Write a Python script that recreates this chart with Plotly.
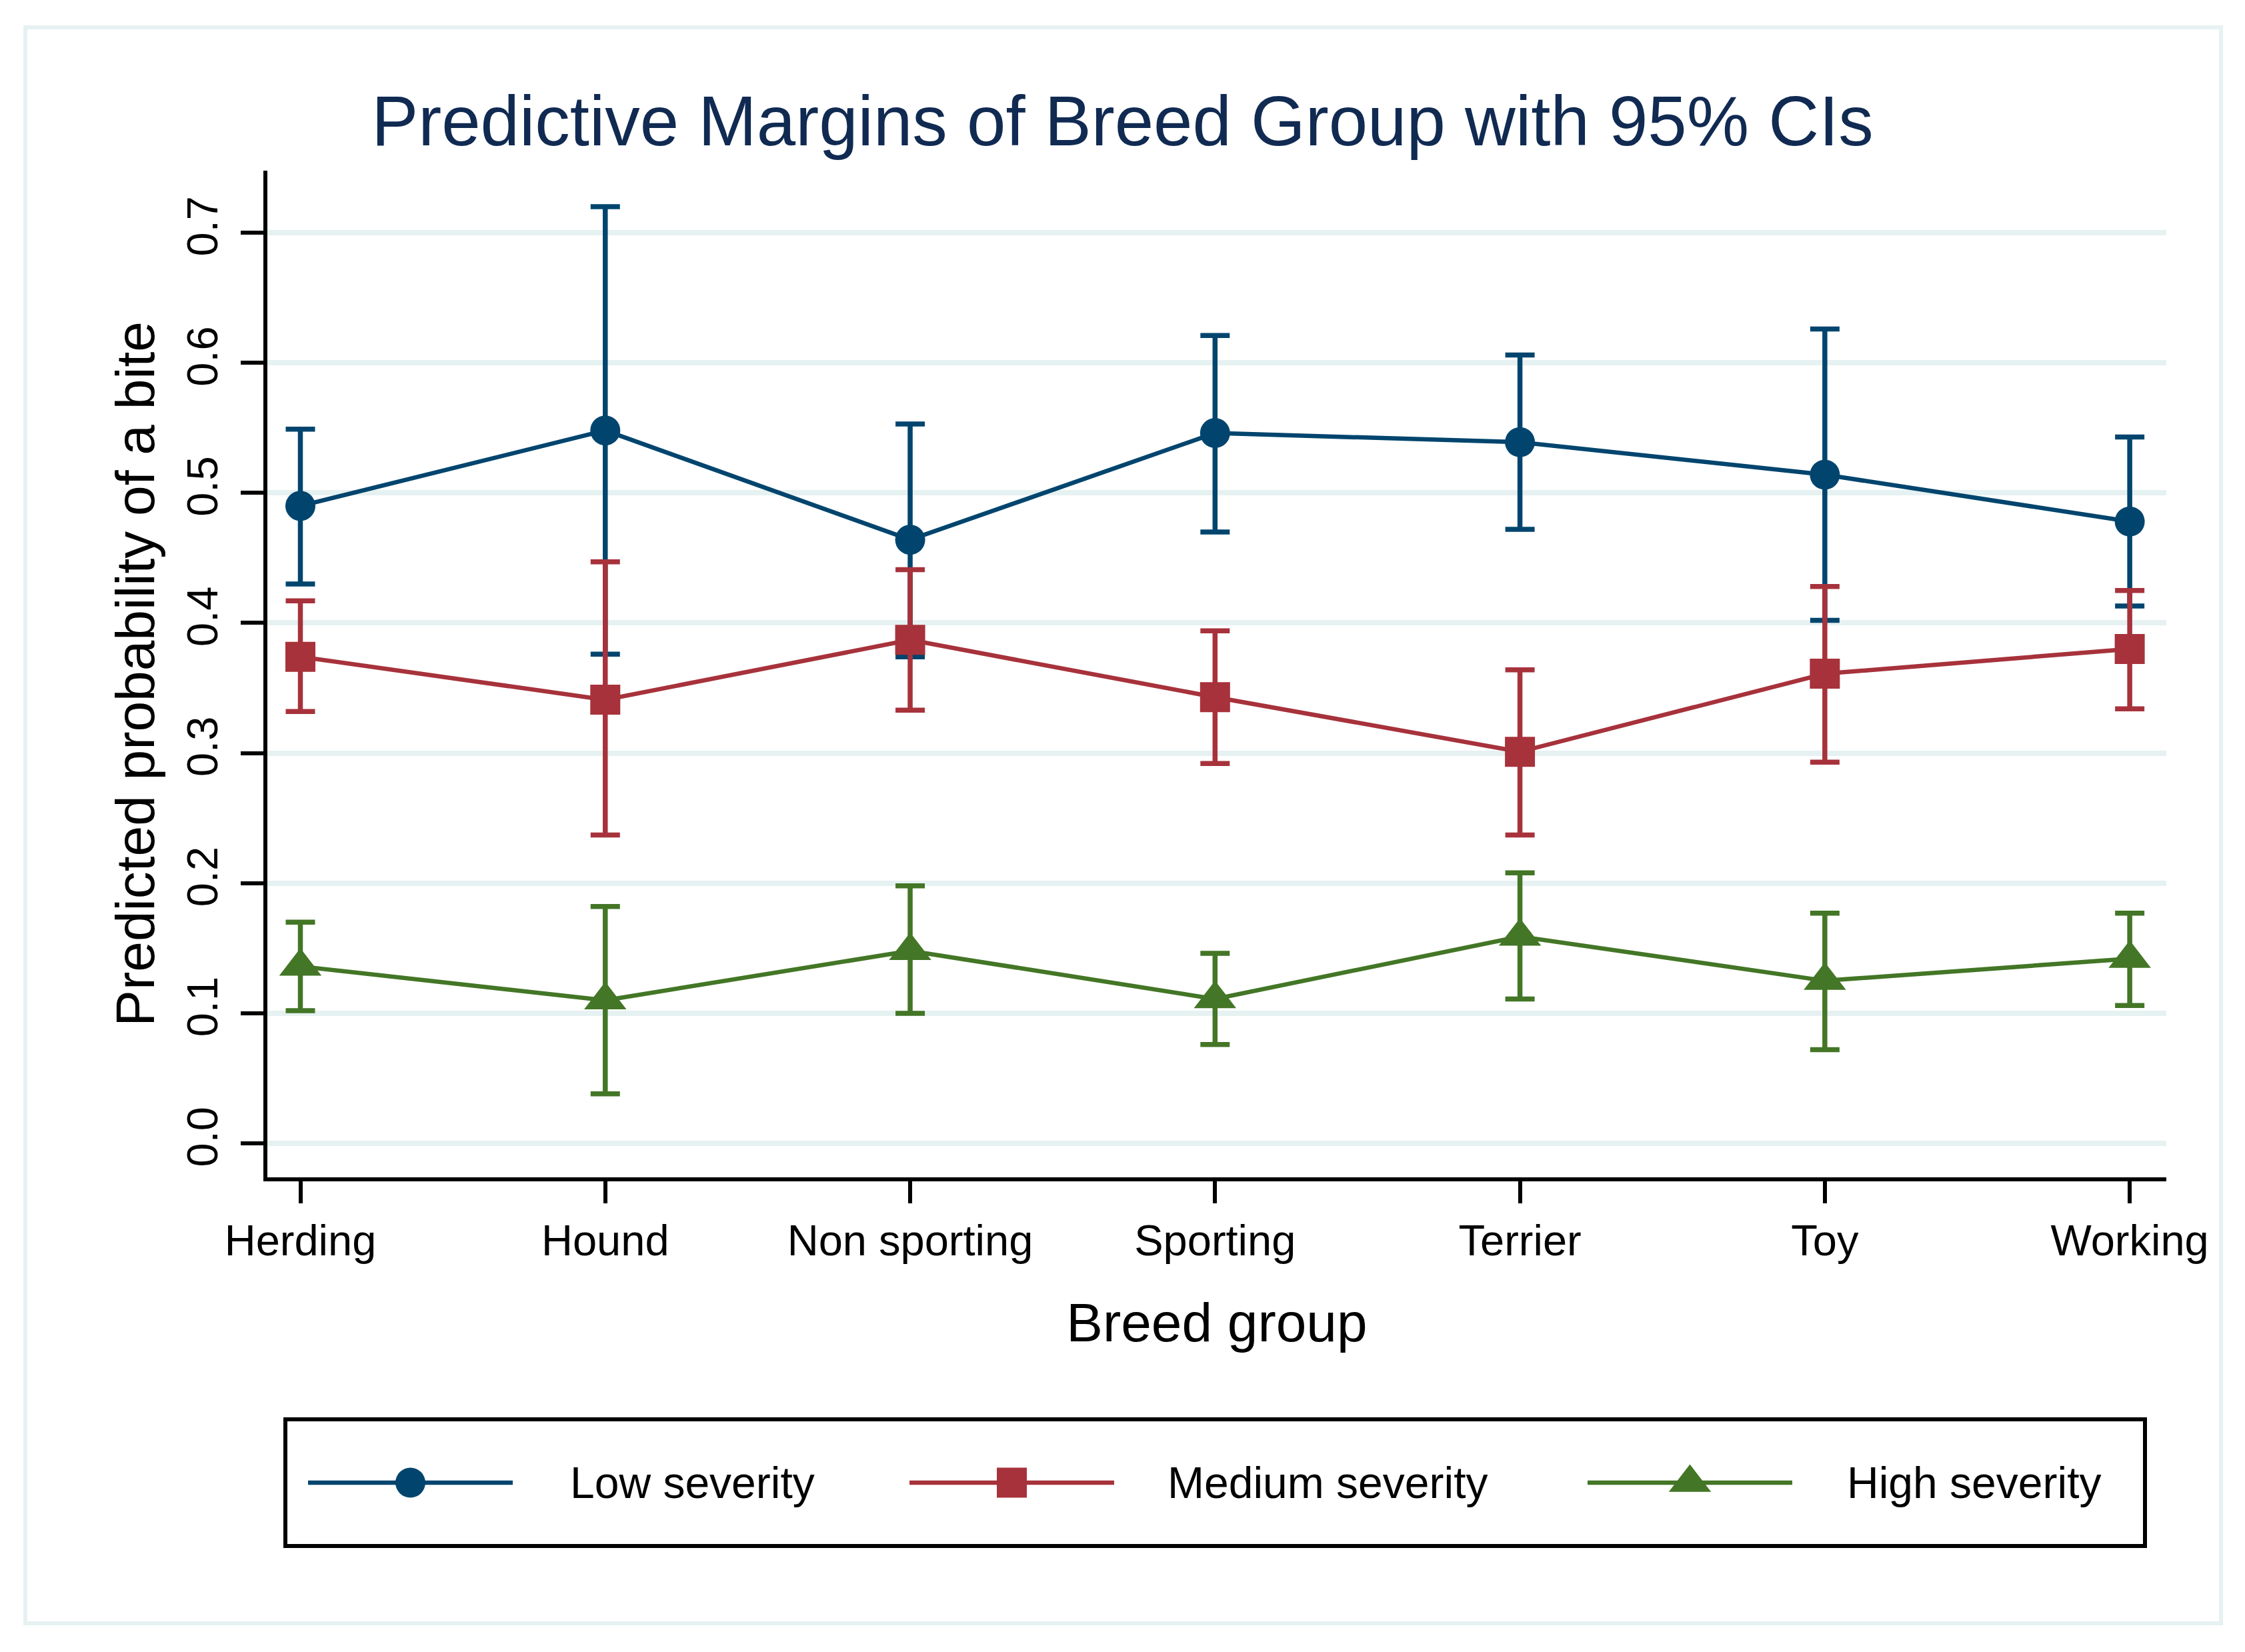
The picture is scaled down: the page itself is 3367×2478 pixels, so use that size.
import plotly.graph_objects as go

# ---------------- data ----------------
categories = ["Herding", "Hound", "Non sporting", "Sporting", "Terrier", "Toy", "Working"]
series_names = ["Low severity", "Medium severity", "High severity"]

low = [0.490, 0.548, 0.464, 0.546, 0.539, 0.514, 0.478]
low_lo = [0.430, 0.376, 0.374, 0.470, 0.472, 0.402, 0.413]
low_hi = [0.549, 0.720, 0.553, 0.621, 0.606, 0.626, 0.543]

medium = [0.374, 0.341, 0.387, 0.343, 0.301, 0.361, 0.380]
medium_lo = [0.332, 0.237, 0.333, 0.292, 0.237, 0.293, 0.334]
medium_hi = [0.417, 0.447, 0.441, 0.394, 0.364, 0.428, 0.425]

high = [0.136, 0.110, 0.148, 0.111, 0.159, 0.125, 0.142]
high_lo = [0.102, 0.038, 0.100, 0.076, 0.111, 0.072, 0.106]
high_hi = [0.170, 0.182, 0.198, 0.146, 0.208, 0.177, 0.177]

ytick_vals = [0.0, 0.1, 0.2, 0.3, 0.4, 0.5, 0.6, 0.7]
ytick_labels = ["0.0", "0.1", "0.2", "0.3", "0.4", "0.5", "0.6", "0.7"]

# ---------------- style ----------------
W, H = 3367, 2478
FONT = "Liberation Sans, Arial, Helvetica, sans-serif"
colors = ["#01456e", "#a7323b", "#437626"]
symbols = ["circle", "square", "triangle-up"]
msizes = [45, 45, 55]
GRID = "#e6f1f1"


def fx(px):
    return px / W


def fy(py):
    return 1 - py / H


# plot-region in pixels
PL, PR, PT, PB = 400.75, 3249, 256, 1765.75

fig = go.Figure()

series = [(low, low_lo, low_hi), (medium, medium_lo, medium_hi), (high, high_lo, high_hi)]
xidx = list(range(len(categories)))
for k, (vals, lo, hi) in enumerate(series):
    fig.add_trace(go.Scatter(
        x=xidx, y=vals, mode="lines+markers", name=series_names[k],
        line=dict(color=colors[k], width=6.5),
        marker=dict(symbol=symbols[k], size=msizes[k], color=colors[k], line=dict(width=0)),
        error_y=dict(type="data", symmetric=False,
                     array=[h - v for h, v in zip(hi, vals)],
                     arrayminus=[v - l for v, l in zip(vals, lo)],
                     color=colors[k], thickness=7.5, width=22),
        showlegend=False, xaxis="x", yaxis="y",
    ))

# ---------------- custom legend (on a pixel-scaled helper axis) ----------------
LEG_L, LEG_R, LEG_T, LEG_B = 425, 3220, 2126, 2322
leg_line_x0 = [462, 1364, 2381]
leg_line_len = 307
leg_text_x = [853, 1749, 2768]
leg_y = 2224
for k in range(3):
    x0 = leg_line_x0[k]
    fig.add_trace(go.Scatter(
        x=[x0, x0 + leg_line_len], y=[leg_y, leg_y], mode="lines",
        line=dict(color=colors[k], width=6.5), showlegend=False,
        hoverinfo="skip", xaxis="x2", yaxis="y2"))
    fig.add_trace(go.Scatter(
        x=[x0 + leg_line_len / 2], y=[leg_y], mode="markers",
        marker=dict(symbol=symbols[k], size=msizes[k], color=colors[k], line=dict(width=0)),
        showlegend=False, hoverinfo="skip", xaxis="x2", yaxis="y2"))
    fig.add_annotation(x=leg_text_x[k], y=leg_y, xref="x2", yref="y2",
                       text=series_names[k], showarrow=False, xanchor="left", yanchor="middle",
                       font=dict(family=FONT, size=66, color="black"))

fig.update_layout(
    width=W, height=H, autosize=False,
    margin=dict(l=0, r=0, t=0, b=0, pad=0, autoexpand=False),
    paper_bgcolor="white", plot_bgcolor="white",
    font=dict(family=FONT, color="black"),
    title=dict(text="Predictive Margins of Breed Group with 95% CIs",
               x=0.5, xref="container", xanchor="center",
               y=1 - 181.5 / H, yref="container", yanchor="middle", automargin=False,
               font=dict(family=FONT, size=105, color="#102a52")),
    xaxis=dict(domain=[fx(PL), fx(PR)], range=[-0.1088, 6.12], automargin=False,
               tickmode="array", tickvals=xidx, ticktext=categories,
               showline=True, linecolor="black", linewidth=5.5,
               ticks="outside", ticklen=33, tickwidth=5.5, tickcolor="black",
               showgrid=False, zeroline=False,
               tickfont=dict(family=FONT, size=65, color="black"),
               title=dict(text="Breed group", font=dict(family=FONT, size=82, color="black"), standoff=61)),
    yaxis=dict(domain=[fy(PB), fy(PT)], range=[-0.0260, 0.7477], automargin=False,
               tickmode="array", tickvals=ytick_vals, ticktext=ytick_labels, tickangle=-90,
               showline=True, linecolor="black", linewidth=5.5,
               ticks="outside", ticklen=34, tickwidth=5.5, tickcolor="black",
               ticklabelstandoff=9,
               showgrid=True, gridcolor=GRID, gridwidth=8, zeroline=False,
               tickfont=dict(family=FONT, size=65, color="black"),
               title=dict(text="Predicted probability of a bite",
                          font=dict(family=FONT, size=82, color="black"), standoff=10)),
    xaxis2=dict(domain=[fx(LEG_L), fx(LEG_R)], range=[LEG_L, LEG_R], visible=False, fixedrange=True),
    yaxis2=dict(domain=[fy(LEG_B), fy(LEG_T)], range=[LEG_B, LEG_T], visible=False, fixedrange=True),
    shapes=[
        dict(type="rect", xref="paper", yref="paper", x0=fx(38), x1=fx(3331), y0=fy(2435), y1=fy(41),
             line=dict(color=GRID, width=6), layer="below"),
        dict(type="rect", xref="paper", yref="paper", x0=fx(LEG_L + 3), x1=fx(LEG_R - 3),
             y0=fy(LEG_B - 3), y1=fy(LEG_T + 3), line=dict(color="black", width=6)),
    ],
)

fig.write_html("out.html", config={"displayModeBar": False},
               post_script="document.body.style.margin='0';document.body.style.overflow='hidden';")
